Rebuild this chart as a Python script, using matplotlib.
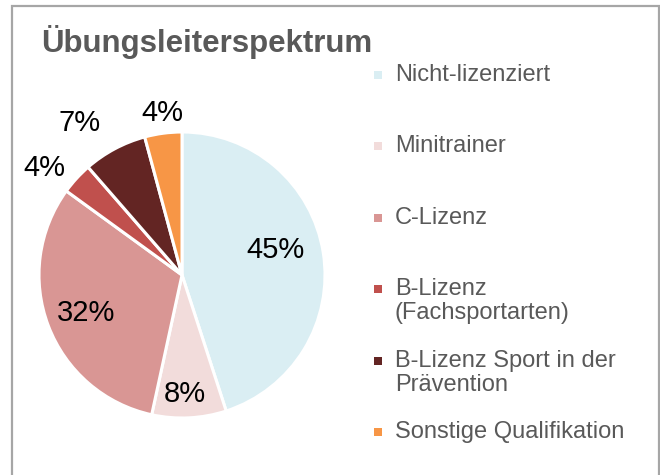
import matplotlib
matplotlib.use("Agg")
import matplotlib.pyplot as plt
import numpy as np
from matplotlib.patches import Rectangle

plt.rcParams['font.family'] = ['Liberation Sans', 'DejaVu Sans']

categories = ["Nicht-lizenziert", "Minitrainer", "C-Lizenz", "B-Lizenz\n(Fachsportarten)",
              "B-Lizenz Sport in der\nPrävention", "Sonstige Qualifikation"]
shares = [45.0, 8.4, 31.6, 3.6, 7.2, 4.2]
colors = ["#DAEEF3", "#F2DCDB", "#D99694", "#C0504D", "#632523", "#F79646"]
title = "Übungsleiterspektrum"

W, H = 660, 475
fig = plt.figure(figsize=(W / 100, H / 100), dpi=100)
ax = fig.add_axes([0, 0, 1, 1])

cx, cy, r = 182, H - 275, 143
wedges, _, autotexts = ax.pie(shares, colors=colors, startangle=90, counterclock=False,
                              center=(cx, cy), radius=r, autopct='%.0f%%',
                              wedgeprops=dict(edgecolor='white', linewidth=2.2),
                              textprops=dict(fontsize=21, color='black'))
# label placement per slice (Excel best-fit): radial distance and angle nudge
dists = [0.68, 0.83, 0.72, 1.22, 1.28, 1.14]
nudge = [6, -1.4, 0.7, 4.5, 5.8, -0.6]
for t, w, d, n in zip(autotexts, wedges, dists, nudge):
    a = np.deg2rad((w.theta1 + w.theta2) / 2 + n)
    t.set_position((cx + d * r * np.cos(a), cy + d * r * np.sin(a)))
    t.set_ha('center'); t.set_va('center')

ax.set_xlim(0, W); ax.set_ylim(0, H)
ax.set_aspect('equal')
ax.axis('off')

ax.text(41, H - 52, title, fontsize=22.5, fontweight='bold', color='#595959', va='baseline')

# legend
for i, (lab, col) in enumerate(zip(categories, colors)):
    y = H - (75 + i * 71.4)
    ax.add_patch(Rectangle((374, y - 4), 8, 8, facecolor=col, edgecolor='none'))
    ax.text(395, y + 11, lab, fontsize=17, color='#595959', va='top', ha='left', linespacing=1.12)

ax.add_patch(Rectangle((12, -10), 647, H - 6 + 10, facecolor='none', edgecolor='#A6A6A6',
                       linewidth=1.6, clip_on=False))

fig.savefig("out.png", dpi=100, facecolor='white')
